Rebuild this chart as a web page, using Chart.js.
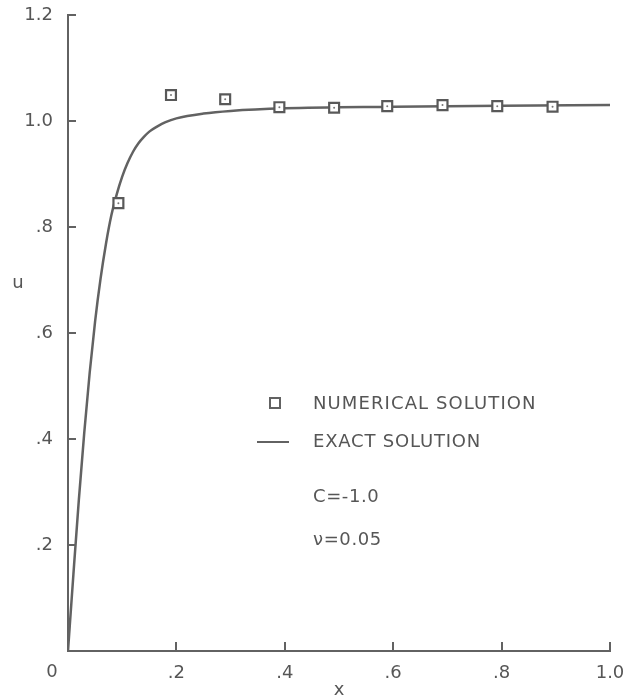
<!DOCTYPE html>
<html><head><meta charset="utf-8">
<script src="https://cdn.jsdelivr.net/npm/chart.js@4"></script>
<style>html,body{margin:0;padding:0;background:#fff}canvas{display:block}</style>
</head><body>
<canvas id="c" width="634" height="698"></canvas>
<script>
// Exact solution curve
const exactX = [0, 0.01, 0.02, 0.03, 0.04, 0.05, 0.06, 0.07, 0.08, 0.09, 0.10, 0.11, 0.12, 0.13, 0.14, 0.15, 0.165, 0.18, 0.20, 0.25, 0.30, 0.40, 0.60, 0.80, 1.0];
const exactU = [0, 0.145, 0.285, 0.412, 0.525, 0.622, 0.702, 0.768, 0.822, 0.862, 0.895, 0.921, 0.942, 0.958, 0.970, 0.980, 0.990, 0.998, 1.005, 1.014, 1.019, 1.024, 1.027, 1.029, 1.030];
// Numerical solution (squares)
const numX = [0.093, 0.19, 0.29, 0.39, 0.491, 0.589, 0.691, 0.792, 0.894];
const numU = [0.845, 1.049, 1.041, 1.026, 1.025, 1.028, 1.030, 1.028, 1.027];
// Axis ticks
const xTicks = [0, 0.2, 0.4, 0.6, 0.8, 1.0];
const yTicks = [0, 0.2, 0.4, 0.6, 0.8, 1.0, 1.2];
const legendLabels = ['NUMERICAL SOLUTION', 'EXACT SOLUTION'];
const noteLines = ['C=-1.0', 'ν=0.05'];

const FONT = '"DejaVu Sans", sans-serif';
const TXT = '#565656';
const LINE = '#626262';

function fmt(v) {
  const r = Math.round(v * 10) / 10;
  if (r === 0) return '';
  const s = r.toFixed(1);
  return s.startsWith('0') ? s.slice(1) : s;
}

const decor = {
  id: 'decor',
  afterDraw(chart) {
    const ctx = chart.ctx, xs = chart.scales.x, ys = chart.scales.y, a = chart.chartArea;
    ctx.save();
    ctx.strokeStyle = LINE; ctx.lineWidth = 2;
    // inward tick marks
    for (const v of xTicks) {
      if (v === 0) continue;
      const p = Math.round(xs.getPixelForValue(v));
      ctx.beginPath(); ctx.moveTo(p, a.bottom); ctx.lineTo(p, a.bottom - 9); ctx.stroke();
    }
    for (const v of yTicks) {
      if (v === 0) continue;
      const p = Math.round(ys.getPixelForValue(v));
      ctx.beginPath(); ctx.moveTo(a.left, p); ctx.lineTo(a.left + 8, p); ctx.stroke();
    }
    // origin label and axis titles
    ctx.fillStyle = TXT; ctx.font = '18px ' + FONT; ctx.textAlign = 'center'; ctx.textBaseline = 'middle';
    ctx.fillText('0', 52, 672);
    ctx.fillText('x', (a.left + a.right) / 2, 690);
    ctx.fillText('u', 18, 283);
    // legend
    ctx.textAlign = 'left';
    ctx.font = '18px ' + FONT;
    ctx.letterSpacing = '1.1px';
    ctx.lineWidth = 2;
    ctx.strokeRect(270, 398, 10, 10);
    ctx.fillText(legendLabels[0], 313, 404);
    ctx.beginPath(); ctx.moveTo(257, 442); ctx.lineTo(289, 442); ctx.stroke();
    ctx.letterSpacing = '0.8px';
    ctx.fillText(legendLabels[1], 313, 442);
    ctx.letterSpacing = '0.6px';
    ctx.fillText(noteLines[0], 313, 497);
    ctx.fillText(noteLines[1], 313, 540);
    ctx.restore();
  }
};

new Chart(document.getElementById('c'), {
  type: 'scatter',
  data: {
    datasets: [
      { label: 'dots', data: numX.map((x, i) => ({ x, y: numU[i] })), pointRadius: 1, pointBackgroundColor: '#777', pointBorderWidth: 0, showLine: false, order: 0 },
      { label: legendLabels[0], data: numX.map((x, i) => ({ x, y: numU[i] })), pointStyle: 'rect', pointRadius: 7, pointBorderWidth: 2.2, pointBorderColor: '#595959', pointBackgroundColor: '#fff', showLine: false, order: 1 },
      { label: legendLabels[1], type: 'line', data: exactX.map((x, i) => ({ x, y: exactU[i] })), borderColor: LINE, borderWidth: 2.5, pointRadius: 0, fill: false, cubicInterpolationMode: 'monotone', order: 2 }
    ]
  },
  options: {
    responsive: false, animation: false,
    layout: { padding: { top: 15, right: 24, left: 0, bottom: 0 } },
    plugins: { legend: { display: false }, tooltip: { enabled: false } },
    scales: {
      x: {
        type: 'linear', min: 0, max: 1,
        afterBuildTicks: s => { s.ticks = xTicks.map(v => ({ value: v })); },
        ticks: { callback: fmt, color: TXT, font: { size: 18, family: FONT }, padding: 4, maxRotation: 0, autoSkip: false },
        grid: { display: false },
        border: { display: true, color: LINE, width: 2 },
        afterFit: s => { s.height = 47; s.paddingLeft = 0; s.paddingRight = 0; }
      },
      y: {
        type: 'linear', min: 0, max: 1.2,
        afterBuildTicks: s => { s.ticks = yTicks.map(v => ({ value: v })); },
        ticks: { callback: fmt, color: TXT, font: { size: 18, family: FONT }, padding: 7, autoSkip: false },
        grid: { display: false },
        border: { display: true, color: LINE, width: 2 },
        afterFit: s => { s.width = 68; s.paddingTop = 0; s.paddingBottom = 0; }
      }
    }
  },
  plugins: [decor]
});
</script>
</body></html>
